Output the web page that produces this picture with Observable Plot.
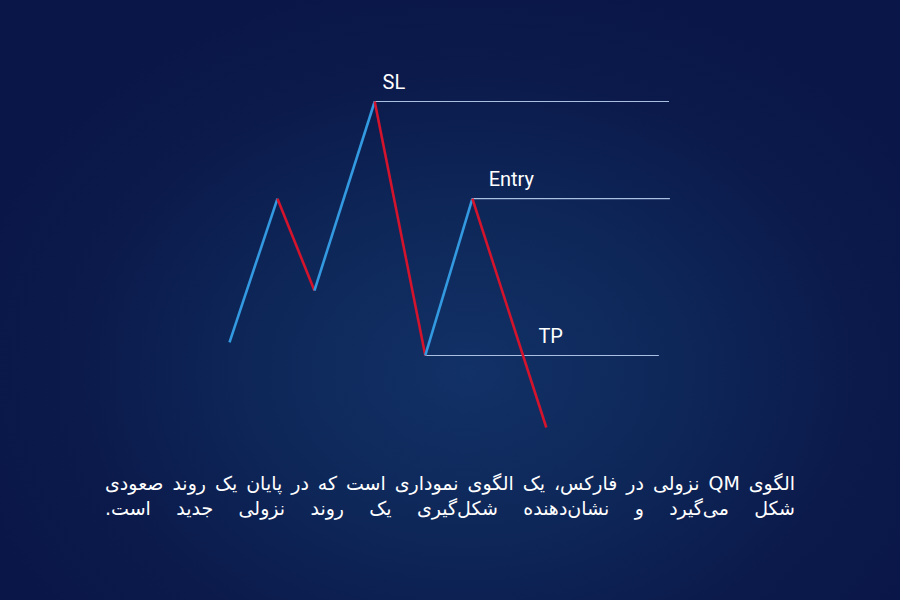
<!DOCTYPE html>
<html>
<head>
<meta charset="utf-8">
<script src="https://cdn.jsdelivr.net/npm/d3@7"></script>
<script src="https://cdn.jsdelivr.net/npm/@observablehq/plot@0.6"></script>
<style>
  html, body { margin: 0; padding: 0; }
  body {
    width: 900px; height: 600px; overflow: hidden;
    background: radial-gradient(ellipse 520px 400px at 52% 62%, #123166 0%, #0e2759 40%, #0b1a4b 75%, #0a1648 100%);
  }
  #chart { position: absolute; left: 0; top: 0; }
  #caption {
    position: absolute; left: 105px; top: 471px; width: 690px;
    color: #ffffff; font-family: "DejaVu Sans", sans-serif; font-size: 19px;
    direction: rtl;
  }
  #caption div { text-align: justify; text-align-last: justify; line-height: 25px; white-space: nowrap; }
</style>
</head>
<body>
<div id="chart"></div>
<div id="caption"></div>
<script>
// Zigzag price path (time index, price)
const times  = [0, 10.9, 19.3, 33, 44.5, 55.2, 72];
const prices = [26.1, 70.2, 42.0, 100, 22.1, 70.2, 0];

// Horizontal levels
const levelNames  = ["SL", "Entry", "TP"];
const levelPrices = [100, 70.2, 22.1];
const levelFrom   = [33, 55.2, 44.5];
const levelTo     = [100, 100.2, 97.7];
const labelAt     = [34.8, 58.9, 70.2];

// Caption lines
const captionLines = [
  "الگوی QM نزولی در فارکس، یک الگوی نموداری است که در پایان یک روند صعودی",
  "شکل می‌گیرد و نشان‌دهنده شکل‌گیری یک روند نزولی جدید است."
];

const segments = d3.range(times.length - 1).map(i => ({
  x1: times[i], y1: prices[i], x2: times[i + 1], y2: prices[i + 1],
  dir: prices[i + 1] > prices[i] ? "up" : "down"
}));
const levels = levelNames.map((n, i) => ({
  name: n, price: levelPrices[i], from: levelFrom[i], to: levelTo[i], label: labelAt[i]
}));

const plot = Plot.plot({
  width: 900,
  height: 460,
  x: { domain: [0, 100], range: [229, 669], axis: null },
  y: { domain: [0, 100], range: [427, 101], axis: null },
  color: { domain: ["up", "down"], range: ["#3399e0", "#d3142c"] },
  style: { background: "transparent", overflow: "visible" },
  marks: [
    Plot.ruleY(levels, { y: "price", x1: "from", x2: "to", stroke: "#aac0e2", strokeWidth: 1.1 }),
    Plot.link(segments, { x1: "x1", y1: "y1", x2: "x2", y2: "y2", stroke: "dir", strokeWidth: 2.6, strokeLinecap: "butt" }),
    Plot.text(levels, { x: "label", y: "price", text: "name", textAnchor: "start", dy: -19,
      fill: "#ffffff", fontSize: 20, fontFamily: "Roboto, sans-serif" })
  ]
});
document.getElementById("chart").appendChild(plot);

const cap = document.getElementById("caption");
captionLines.forEach(t => {
  const d = document.createElement("div");
  d.textContent = t;
  cap.appendChild(d);
});
</script>
</body>
</html>
